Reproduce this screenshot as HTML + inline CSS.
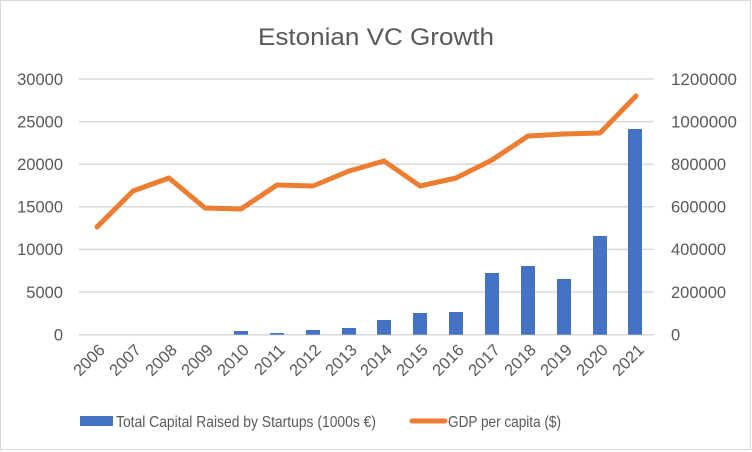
<!DOCTYPE html>
<html><head><style>body{margin:0;background:#fff}svg{display:block}</style></head><body>
<svg width="752" height="452" xmlns="http://www.w3.org/2000/svg" font-family="Liberation Sans, sans-serif">
<rect x="0.5" y="0.5" width="750" height="449" fill="#fff" stroke="#d9d9d9"/>
<text x="376" y="45" text-anchor="middle" font-size="24" fill="#595959" textLength="236" lengthAdjust="spacingAndGlyphs">Estonian VC Growth</text>
<g stroke="#d9d9d9" stroke-width="1.5">
<line x1="79" x2="654" y1="79" y2="79"/><line x1="79" x2="654" y1="121.6" y2="121.6"/><line x1="79" x2="654" y1="164.2" y2="164.2"/><line x1="79" x2="654" y1="206.8" y2="206.8"/><line x1="79" x2="654" y1="249.4" y2="249.4"/><line x1="79" x2="654" y1="292" y2="292"/><line x1="79" x2="654" y1="334.7" y2="334.7"/>
</g>
<g font-size="16.5" fill="#595959" text-anchor="end">
<text x="63" y="85">30000</text><text x="63" y="127.5">25000</text><text x="63" y="170">20000</text><text x="63" y="212.5">15000</text><text x="63" y="255">10000</text><text x="63" y="298">5000</text><text x="63" y="340.5">0</text>
</g>
<g font-size="16.5" fill="#595959" text-anchor="start">
<text x="671" y="85" textLength="66" lengthAdjust="spacingAndGlyphs">1200000</text><text x="671" y="127.5" textLength="66" lengthAdjust="spacingAndGlyphs">1000000</text><text x="671" y="170">800000</text><text x="671" y="212.5">600000</text><text x="671" y="255">400000</text><text x="671" y="298">200000</text><text x="671" y="340.5">0</text>
</g>
<g fill="#4472c4">
<rect x="234" y="331" width="14" height="3.7"/>
<rect x="270" y="333" width="14" height="1.7"/>
<rect x="306" y="330" width="14" height="4.7"/>
<rect x="342" y="328" width="14" height="6.7"/>
<rect x="377" y="320" width="14" height="14.7"/>
<rect x="413" y="313" width="14" height="21.7"/>
<rect x="449" y="312" width="14" height="22.7"/>
<rect x="485" y="273" width="14" height="61.7"/>
<rect x="521" y="266" width="14" height="68.7"/>
<rect x="557" y="279" width="14" height="55.7"/>
<rect x="593" y="236" width="14" height="98.7"/>
<rect x="628" y="129" width="14" height="205.7"/>
</g>
<polyline fill="none" stroke="#ed7d31" stroke-width="5" stroke-linecap="round" stroke-linejoin="round"
points="97,227 133,191 169,178 205,208 241,209 277,185 313,186 349,171 384,161 420,186 456,178 492,160 528,136 564,134 600,133 636,96"/>
<g font-size="16.5" fill="#595959" text-anchor="end">
<text transform="translate(106,351) rotate(-45)">2006</text>
<text transform="translate(142,351) rotate(-45)">2007</text>
<text transform="translate(178,351) rotate(-45)">2008</text>
<text transform="translate(214,351) rotate(-45)">2009</text>
<text transform="translate(250,351) rotate(-45)">2010</text>
<text transform="translate(286,351) rotate(-45)">2011</text>
<text transform="translate(322,351) rotate(-45)">2012</text>
<text transform="translate(358,351) rotate(-45)">2013</text>
<text transform="translate(393,351) rotate(-45)">2014</text>
<text transform="translate(429,351) rotate(-45)">2015</text>
<text transform="translate(465,351) rotate(-45)">2016</text>
<text transform="translate(501,351) rotate(-45)">2017</text>
<text transform="translate(537,351) rotate(-45)">2018</text>
<text transform="translate(573,351) rotate(-45)">2019</text>
<text transform="translate(609,351) rotate(-45)">2020</text>
<text transform="translate(645,351) rotate(-45)">2021</text>
</g>
<rect x="80" y="416" width="33" height="10" fill="#4472c4"/>
<text x="116" y="427" font-size="16" fill="#595959" textLength="260" lengthAdjust="spacingAndGlyphs">Total Capital Raised by Startups (1000s €)</text>
<line x1="412" x2="445" y1="421" y2="421" stroke="#ed7d31" stroke-width="5" stroke-linecap="round"/>
<text x="448" y="427" font-size="16" fill="#595959" textLength="113" lengthAdjust="spacingAndGlyphs">GDP per capita ($)</text>
</svg>
</body></html>
